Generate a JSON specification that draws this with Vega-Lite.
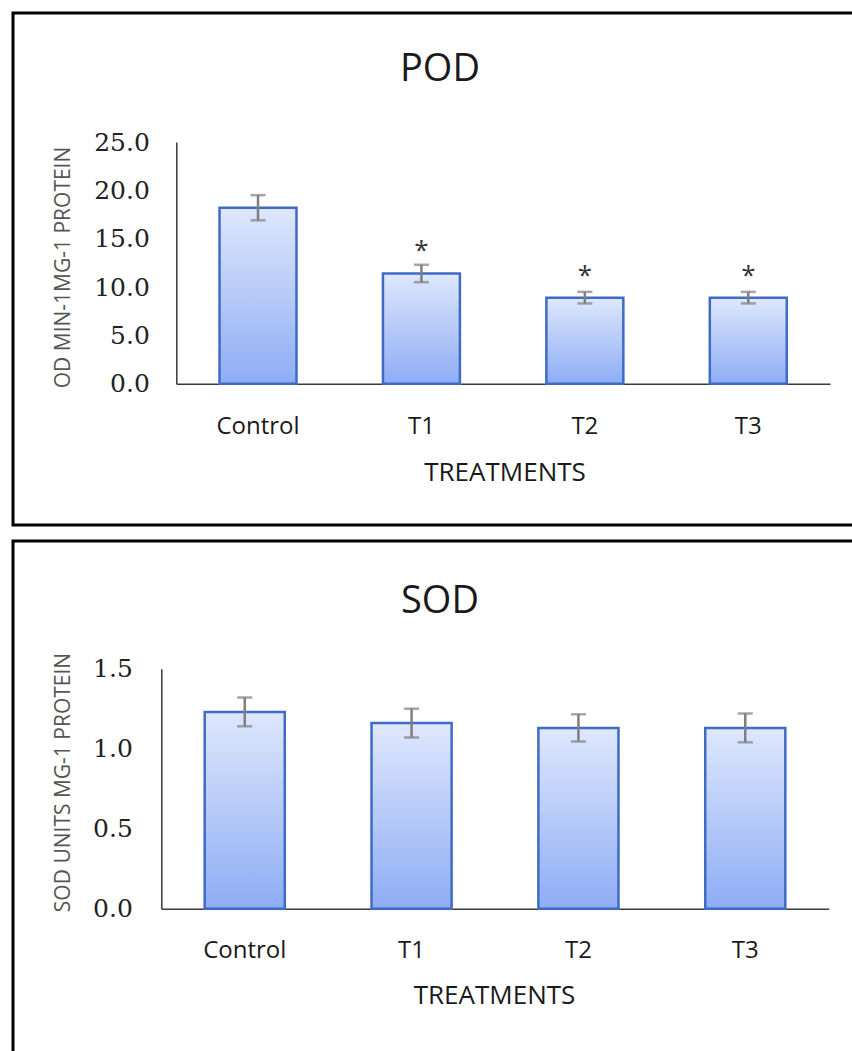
{
  "$schema": "https://vega.github.io/schema/vega-lite/v6.json",
  "padding": {"left": 11, "top": 11, "right": 0, "bottom": 0},
  "bounds": "flush",
  "spacing": 16,
  "config": {
    "view": {"stroke": "#000000", "strokeWidth": 3},
    "font": "Open Sans",
    "axis": {"grid": false, "ticks": false, "domainColor": "#3a3a3a", "domainWidth": 1.5}
  },
  "vconcat": [
    {
      "width": 860,
      "height": 512,
      "title": {"text": "POD", "frame": "group", "anchor": "middle", "baseline": "alphabetic", "offset": 0, "dy": 106, "dx": -3, "font": "Open Sans", "fontSize": 38, "fontWeight": "normal", "color": "#1a1a1a"},
      "data": {"values": [
        {"treatment": "Control", "value": 18.2, "err": 1.3, "sig": ""},
        {"treatment": "T1", "value": 11.4, "err": 0.9, "sig": "*"},
        {"treatment": "T2", "value": 8.9, "err": 0.6, "sig": "*"},
        {"treatment": "T3", "value": 8.9, "err": 0.6, "sig": "*"}
      ]},
      "encoding": {
        "x": {"field": "treatment", "type": "nominal", "sort": null,
          "scale": {"type": "band", "range": [163.3, 817], "paddingInner": 0.529, "paddingOuter": 0.2645},
          "axis": {"title": "TREATMENTS", "offset": -141.3, "labelAngle": 0, "labelFont": "Open Sans", "labelFontSize": 24, "labelColor": "#1a1a1a", "labelPadding": 31,
            "titleFont": "Open Sans", "titleFontSize": 26, "titleFontWeight": "normal", "titleColor": "#1a1a1a", "titleX": 491.5, "titleY": 97, "titleBaseline": "alphabetic"}},
        "y": {"field": "value", "type": "quantitative",
          "scale": {"domain": [0, 25], "range": [370.7, 129], "nice": false, "zero": false},
          "axis": {"values": [0, 5, 10, 15, 20, 25], "format": ".1f", "offset": -163.3, "labelFont": "DejaVu Serif", "labelFontSize": 25, "labelColor": "#222222", "labelPadding": 27,
            "title": "OD MIN-1MG-1 PROTEIN", "titleFont": "Open Sans", "titleFontSize": 21, "titleFontWeight": "normal", "titleColor": "#555555", "titleX": -112.6, "titleY": 254, "titleBaseline": "middle"}}
      },
      "layer": [
        {"mark": {"type": "bar", "stroke": "#3f6bc5", "strokeWidth": 2.5,
          "fill": {"gradient": "linear", "x1": 0, "y1": 0, "x2": 0, "y2": 1, "stops": [{"offset": 0, "color": "#dee7fc"}, {"offset": 1, "color": "#8eadf5"}]}},
         "encoding": {"y2": {"datum": 0}}},
        {"mark": {"type": "errorbar", "ticks": true, "size": 15, "thickness": 2.5, "color": "#7f7f7f"},
         "encoding": {"yError": {"field": "err"}}},
        {"mark": {"type": "text", "font": "Open Sans", "fontSize": 26, "baseline": "middle", "dy": -22, "color": "#333333"},
         "encoding": {"text": {"field": "sig"}}}
      ]
    },
    {
      "width": 860,
      "height": 520,
      "title": {"text": "SOD", "frame": "group", "anchor": "middle", "baseline": "alphabetic", "offset": 0, "dy": 110, "dx": -3, "font": "Open Sans", "fontSize": 38, "fontWeight": "normal", "color": "#1a1a1a"},
      "data": {"values": [
        {"treatment": "Control", "value": 1.23, "err": 0.09},
        {"treatment": "T1", "value": 1.16, "err": 0.09},
        {"treatment": "T2", "value": 1.13, "err": 0.085},
        {"treatment": "T3", "value": 1.13, "err": 0.09}
      ]},
      "encoding": {
        "x": {"field": "treatment", "type": "nominal", "sort": null,
          "scale": {"type": "band", "range": [148.3, 815.7], "paddingInner": 0.52, "paddingOuter": 0.26},
          "axis": {"title": "TREATMENTS", "offset": -152.3, "labelAngle": 0, "labelFont": "Open Sans", "labelFontSize": 24, "labelColor": "#1a1a1a", "labelPadding": 30,
            "titleFont": "Open Sans", "titleFontSize": 26, "titleFontWeight": "normal", "titleColor": "#1a1a1a", "titleX": 481, "titleY": 95, "titleBaseline": "alphabetic"}},
        "y": {"field": "value", "type": "quantitative",
          "scale": {"domain": [0, 1.5], "range": [367.7, 127.7], "nice": false, "zero": false},
          "axis": {"values": [0, 0.5, 1, 1.5], "format": ".1f", "offset": -148.3, "labelFont": "DejaVu Serif", "labelFontSize": 25, "labelColor": "#222222", "labelPadding": 29,
            "title": "SOD UNITS MG-1 PROTEIN", "titleFont": "Open Sans", "titleFontSize": 21, "titleFontWeight": "normal", "titleColor": "#555555", "titleX": -97.6, "titleY": 241, "titleBaseline": "middle"}}
      },
      "layer": [
        {"mark": {"type": "bar", "stroke": "#3f6bc5", "strokeWidth": 2.5,
          "fill": {"gradient": "linear", "x1": 0, "y1": 0, "x2": 0, "y2": 1, "stops": [{"offset": 0, "color": "#dee7fc"}, {"offset": 1, "color": "#8eadf5"}]}},
         "encoding": {"y2": {"datum": 0}}},
        {"mark": {"type": "errorbar", "ticks": true, "size": 15, "thickness": 2.5, "color": "#7f7f7f"},
         "encoding": {"yError": {"field": "err"}}}
      ]
    }
  ]
}
